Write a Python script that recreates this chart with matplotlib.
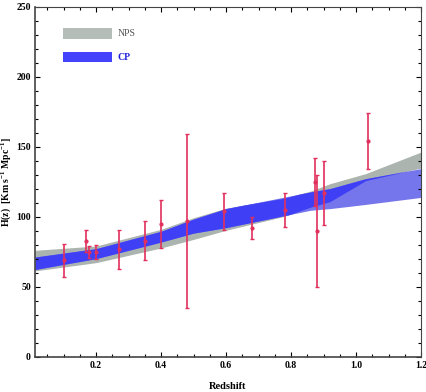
import numpy as np
import matplotlib
matplotlib.use("Agg")
import matplotlib.pyplot as plt
from matplotlib.ticker import MultipleLocator

# ── H(z) measurements ─────────────────────────────────────────────────────────
z_obs   = [0.10, 0.17, 0.179, 0.199, 0.27, 0.352, 0.40, 0.48, 0.593,
           0.68, 0.781, 0.875, 0.88, 0.90, 1.037]
h_obs   = [69, 83, 75, 75, 77, 83, 95, 97, 104, 92, 105, 125, 90, 117, 154]
h_err   = [12, 8, 4, 5, 14, 14, 17, 62, 13, 8, 12, 17, 40, 23, 20]

# ── reconstructed bands ───────────────────────────────────────────────────────
z_nps     = [0.012, 0.2, 0.4, 0.5, 0.6, 0.78, 0.86, 0.92, 1.03, 1.2]
nps_lower = [61.5, 67.4, 77.9, 84.0, 90.5, 100.5, 107.0, 111.0, 126.0, 135.0]
nps_upper = [76.2, 79.3, 91.2, 99.5, 106.3, 113.5, 118.5, 123.8, 131.0, 146.4]

z_cp      = [0.012, 0.2, 0.4, 0.5, 0.6, 0.86, 0.92, 1.03, 1.2]
cp_lower  = [62.5, 70.3, 82.1, 88.5, 92.4, 104.8, 106.0, 109.0, 114.0]
cp_upper  = [71.4, 77.4, 89.8, 98.5, 106.0, 117.9, 120.3, 127.4, 134.6]

GRAY  = "#abb4af"
BLUE  = "#3f3ff6"
LBLUE = "#7676ec"
RED   = "#e2305c"

plt.rcParams["font.family"] = ["Liberation Serif", "DejaVu Serif"]
plt.rcParams["font.weight"] = "bold"
plt.rcParams["mathtext.fontset"] = "custom"
plt.rcParams["mathtext.rm"] = "Liberation Serif:bold"
plt.rcParams["mathtext.it"] = "Liberation Serif:bold"
plt.rcParams["mathtext.bf"] = "Liberation Serif:bold"

fig = plt.figure(figsize=(4.27, 3.92), dpi=100)
ax = fig.add_axes([35 / 427, 1 - 357 / 392, 386 / 427, 350 / 392])

# bands on a common grid so the overlap can be shaded darker
zz = np.linspace(0.012, 1.2, 600)
nl = np.interp(zz, z_nps, nps_lower)
nu = np.interp(zz, z_nps, nps_upper)
cl = np.interp(zz, z_cp, cp_lower)
cu = np.interp(zz, z_cp, cp_upper)
ol = np.maximum(nl, cl)
ou = np.minimum(nu, cu)

ax.fill_between(zz, nl, nu, color=GRAY, lw=0)
ax.fill_between(zz, cl, cu, color=LBLUE, lw=0)
ax.fill_between(zz, ol, ou, where=ou > ol, color=BLUE, lw=0, interpolate=True)

ax.errorbar(z_obs, h_obs, yerr=h_err, fmt="o", ms=2, color=RED,
            ecolor=RED, elinewidth=1.2, capsize=1.5, capthick=1, zorder=5)

# legend drawn as patches in axes coordinates, like the original
ax.fill_between([0.0725, 0.1995], [0.9086] * 2, [0.94] * 2,
                transform=ax.transAxes, color="#b5bdb9", lw=0)
ax.fill_between([0.0725, 0.1995], [0.843] * 2, [0.8714] * 2,
                transform=ax.transAxes, color="#4343fc", lw=0)
ax.text(0.215, 0.925, "NPS", transform=ax.transAxes,
        fontsize=7, color="#555555", va="center", fontweight="normal")
ax.text(0.215, 0.857, "CP", transform=ax.transAxes,
        fontsize=7, color="#2222dd", va="center", fontweight="bold")

ax.set_xlim(0.012, 1.2)
ax.set_ylim(0, 250)
ax.xaxis.set_major_locator(MultipleLocator(0.2))
ax.xaxis.set_minor_locator(MultipleLocator(0.05))
ax.yaxis.set_major_locator(MultipleLocator(50))
ax.yaxis.set_minor_locator(MultipleLocator(10))
ax.set_xticks([0.2, 0.4, 0.6, 0.8, 1.0, 1.2])
ax.set_xticklabels(["0.2", "0.4", "0.6", "0.8", "1.0", "1.2"])
ax.tick_params(which="both", direction="in", top=True, right=True,
               labelsize=7, pad=3, width=0.8)
ax.tick_params(which="major", length=3.5)
ax.tick_params(which="minor", length=2)
for lbl in ax.get_xticklabels() + ax.get_yticklabels():
    lbl.set_fontweight("bold")
for s in ax.spines.values():
    s.set_linewidth(0.8)
    s.set_color("#444444")
ax.spines["left"].set_linewidth(1.2)
ax.spines["bottom"].set_linewidth(1.2)

ax.set_xlabel("Redshift", fontsize=7.5, fontweight="bold")
ax.xaxis.set_label_coords(0.5, -0.072)
ax.set_ylabel(r"H(z)  [Km s$^{-1}$ Mpc$^{-1}$]", fontsize=7,
              fontweight="bold")
ax.yaxis.set_label_coords(-0.056, 0.5)

fig.savefig("out.png", dpi=100)
